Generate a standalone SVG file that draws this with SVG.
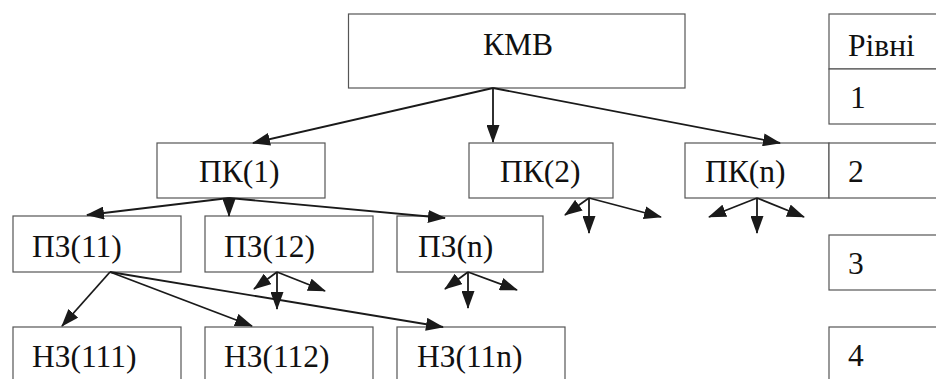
<svg xmlns="http://www.w3.org/2000/svg" width="936" height="379" viewBox="0 0 936 379">
  <style>
    .box { fill: #ffffff; stroke: #555555; stroke-width: 1.2; }
    .lbl { font-family: "Liberation Serif", "Times New Roman", serif; font-size: 31.5px; fill: #111111; }
    .edge { stroke: #1a1a1a; stroke-width: 1.8; fill: none; marker-end: url(#head); }
  </style>
  <defs>
    <marker id="head" markerUnits="userSpaceOnUse" markerWidth="18" markerHeight="13" refX="17" refY="6.5" orient="auto">
      <path d="M0,0 L18,6.5 L0,13 Z" fill="#1a1a1a"/>
    </marker>
  </defs>

  <rect width="936" height="379" fill="#ffffff"/>

  <!-- root -->
  <g id="kmv">
    <rect class="box" x="348.5" y="14" width="336.5" height="74"/>
    <text class="lbl" x="483" y="55">КМВ</text>
  </g>

  <!-- level 2 -->
  <g id="pk1">
    <rect class="box" x="157" y="143" width="168" height="55"/>
    <text class="lbl" x="199" y="182">ПК(1)</text>
  </g>
  <g id="pk2">
    <rect class="box" x="469" y="143" width="144" height="55"/>
    <text class="lbl" x="500" y="182">ПК(2)</text>
  </g>
  <g id="pkn">
    <rect class="box" x="685" y="143" width="144" height="55"/>
    <text class="lbl" x="705" y="182">ПК(n)</text>
  </g>

  <!-- level 3 -->
  <g id="pz11">
    <rect class="box" x="13" y="216" width="168" height="56"/>
    <text class="lbl" x="32" y="257">ПЗ(11)</text>
  </g>
  <g id="pz12">
    <rect class="box" x="205" y="216" width="168" height="56"/>
    <text class="lbl" x="224" y="257">ПЗ(12)</text>
  </g>
  <g id="pzn">
    <rect class="box" x="397" y="216" width="146" height="56"/>
    <text class="lbl" x="418" y="257">ПЗ(n)</text>
  </g>

  <!-- level 4 -->
  <g id="nz111">
    <rect class="box" x="13" y="327" width="168" height="70"/>
    <text class="lbl" x="32" y="367">НЗ(111)</text>
  </g>
  <g id="nz112">
    <rect class="box" x="205" y="327" width="168" height="70"/>
    <text class="lbl" x="224" y="367">НЗ(112)</text>
  </g>
  <g id="nz11n">
    <rect class="box" x="397" y="327" width="168" height="70"/>
    <text class="lbl" x="417" y="367">НЗ(11n)</text>
  </g>

  <!-- level column -->
  <g id="levels-head">
    <rect class="box" x="829" y="14" width="120" height="55"/>
    <text class="lbl" x="848" y="56">Рівні</text>
  </g>
  <g id="level1">
    <rect class="box" x="829" y="69" width="120" height="55"/>
    <text class="lbl" x="850" y="108">1</text>
  </g>
  <g id="level2">
    <rect class="box" x="829" y="143" width="120" height="55"/>
    <text class="lbl" x="848" y="182">2</text>
  </g>
  <g id="level3">
    <rect class="box" x="829" y="235" width="120" height="55"/>
    <text class="lbl" x="848" y="274">3</text>
  </g>
  <g id="level4">
    <rect class="box" x="829" y="327" width="120" height="70"/>
    <text class="lbl" x="848" y="366">4</text>
  </g>

  <!-- connectors -->
  <g id="connectors">
    <line class="edge" x1="493" y1="88" x2="253" y2="143"/>
    <line class="edge" x1="493" y1="88" x2="493" y2="142"/>
    <line class="edge" x1="493" y1="88" x2="780" y2="143"/>

    <line class="edge" x1="229" y1="198" x2="87" y2="215"/>
    <line class="edge" x1="229" y1="198" x2="229" y2="216"/>
    <line class="edge" x1="229" y1="198" x2="445" y2="218"/>

    <line class="edge" x1="589" y1="198" x2="565" y2="215"/>
    <line class="edge" x1="589" y1="198" x2="589" y2="233"/>
    <line class="edge" x1="589" y1="198" x2="661" y2="217"/>

    <line class="edge" x1="757" y1="198" x2="709" y2="217"/>
    <line class="edge" x1="757" y1="198" x2="757" y2="233"/>
    <line class="edge" x1="757" y1="198" x2="804" y2="217"/>

    <line class="edge" x1="110" y1="272" x2="62" y2="326"/>
    <line class="edge" x1="110" y1="272" x2="252" y2="326"/>
    <line class="edge" x1="110" y1="272" x2="443" y2="327"/>

    <line class="edge" x1="277" y1="272" x2="254" y2="289"/>
    <line class="edge" x1="277" y1="272" x2="277" y2="309"/>
    <line class="edge" x1="277" y1="272" x2="325" y2="291"/>

    <line class="edge" x1="468" y1="272" x2="445" y2="289"/>
    <line class="edge" x1="468" y1="272" x2="468" y2="308"/>
    <line class="edge" x1="468" y1="272" x2="517" y2="290"/>
  </g>
</svg>
